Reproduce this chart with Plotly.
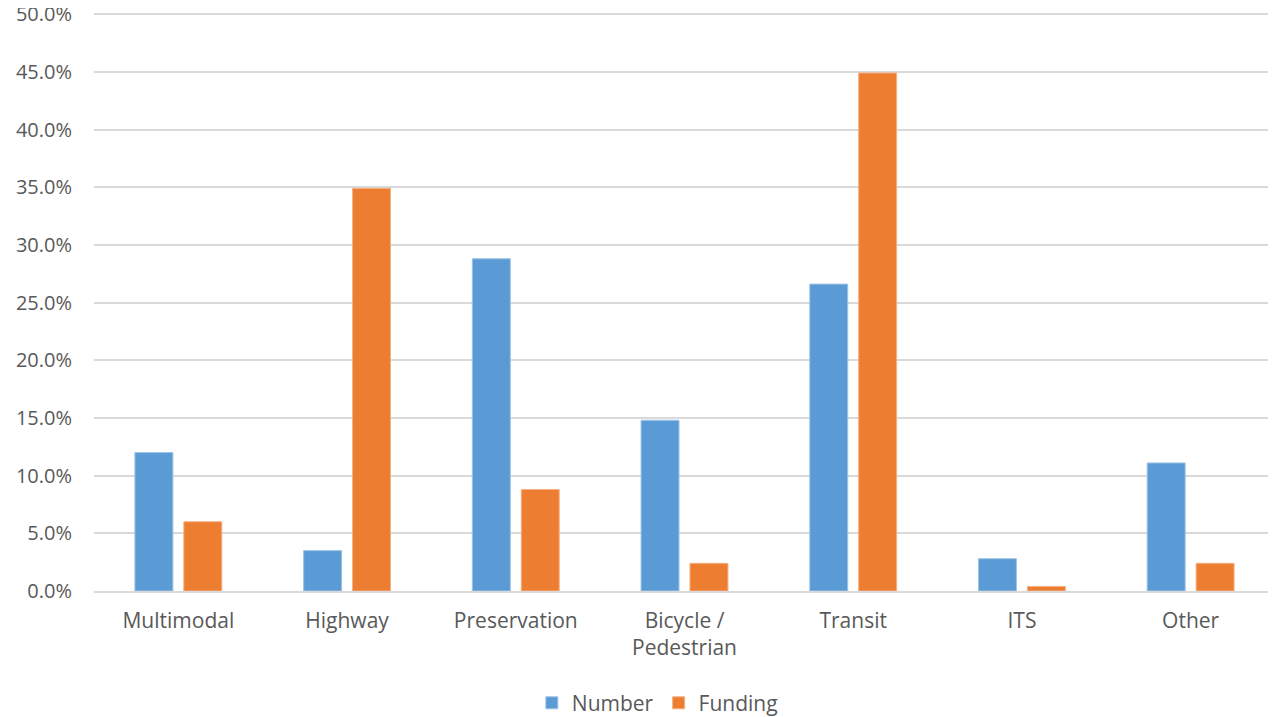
import plotly.graph_objects as go

categories = ["Multimodal", "Highway", "Preservation", "Bicycle /<br>Pedestrian", "Transit", "ITS", "Other"]
number_pct = [12.0, 3.5, 28.8, 14.8, 26.6, 2.8, 11.1]
funding_pct = [6.0, 34.9, 8.8, 2.4, 44.9, 0.4, 2.4]
y_ticks = [0, 5, 10, 15, 20, 25, 30, 35, 40, 45, 50]
y_tick_labels = [f"{v:.1f}%" for v in y_ticks]

FONT = "Open Sans"
FS = 21
fig = go.Figure()
fig.add_trace(go.Bar(name="Number", x=categories, y=number_pct,
                     marker=dict(color="#5B9BD5", line=dict(color="#9DC3E6", width=1))))
fig.add_trace(go.Bar(name="Funding", x=categories, y=funding_pct,
                     marker=dict(color="#ED7D31", line=dict(color="#F4B183", width=1))))

fig.update_layout(
    width=1268, height=709,
    margin=dict(l=86, r=1, t=5, b=126, autoexpand=False),
    paper_bgcolor="white", plot_bgcolor="white",
    barmode="group", bargap=0.42, bargroupgap=0.224,
    font=dict(family=FONT, size=FS, color="#595959"),
    showlegend=True,
    legend=dict(orientation="h", x=0.477, xanchor="center", y=-0.194, yanchor="middle",
                font=dict(family=FONT, size=FS, color="#595959"), itemwidth=30),
    hovermode=False,
)
fig.update_yaxes(range=[0, 50.1], tickvals=y_ticks, ticktext=y_tick_labels,
                 showgrid=True, gridcolor="#D9D9D9", gridwidth=1.5,
                 zeroline=False, showline=False, automargin=False,
                 ticklabeloverflow="allow",
                 ticks="outside", ticklen=17, tickcolor="rgba(0,0,0,0)",
                 tickfont=dict(family=FONT, size=20, color="#595959"))
fig.update_xaxes(showline=True, linecolor="#D9D9D9", linewidth=1.5, automargin=False,
                 showgrid=False, ticks="outside", ticklen=10, tickcolor="rgba(0,0,0,0)",
                 tickfont=dict(family=FONT, size=FS, color="#595959"))

fig.write_html("out.html")
